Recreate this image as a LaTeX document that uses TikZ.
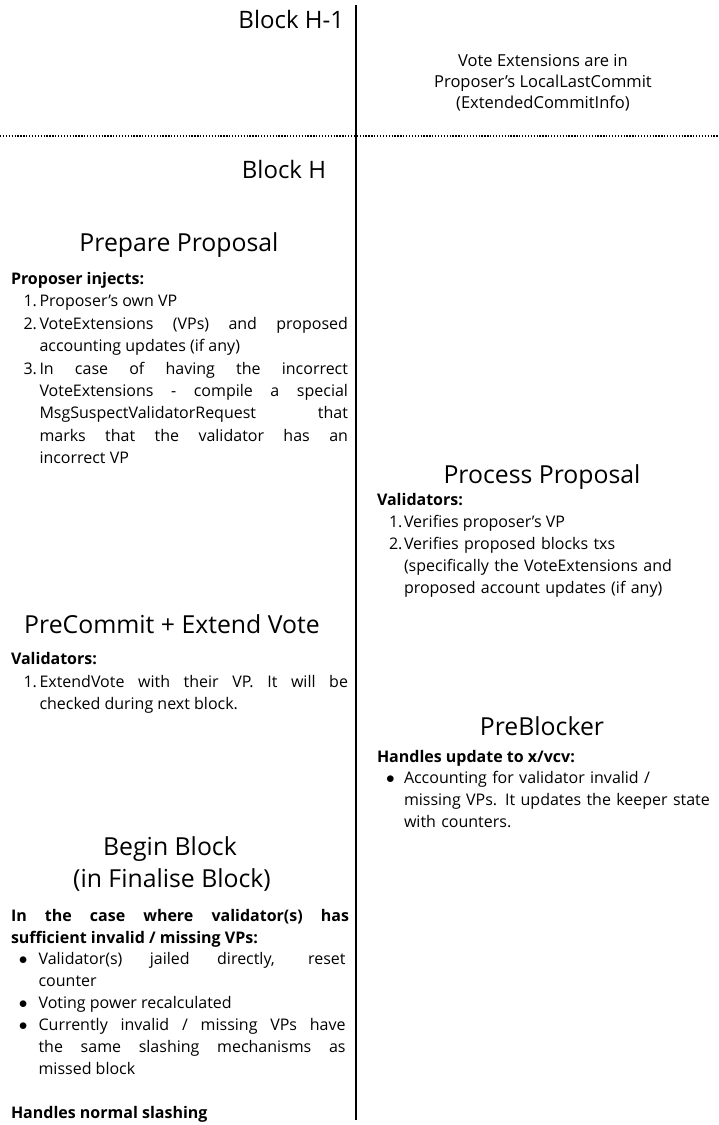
\documentclass[tikz,border=0pt]{standalone}
\usepackage{fontspec}
\setmainfont{Open Sans}
\begin{document}
\begin{tikzpicture}[x=1pt,y=-1pt,
  every node/.style={inner sep=0pt, outer sep=0pt},
  title/.style={font=\fontsize{24.8}{29}\selectfont, anchor=base},
  blk/.style={font=\fontsize{24}{28}\selectfont, anchor=base east},
  lbl/.style={font=\fontsize{16}{22.4}\selectfont\bfseries, anchor=base west},
  num/.style={font=\fontsize{16}{22.4}\selectfont, anchor=base west},
  para/.style={font=\fontsize{16}{22.4}\selectfont, anchor=base west, align=justify},
  rag/.style={font=\fontsize{16}{22.4}\selectfont, anchor=base west, align=left},
  note/.style={font=\fontsize{16.5}{21.3}\selectfont, anchor=base},
  divider/.style={line width=2pt},
  dotline/.style={line width=1.3pt, dash pattern=on 1.3pt off 1.6pt},
]
\useasboundingbox (0,0) rectangle (718,1125);
% dividers
\coordinate (vtop) at (356,5);
\coordinate (vbot) at (356,1120);
\coordinate (hl) at (0,136);
\coordinate (hr) at (718,136);
\draw[divider] (vtop) -- (vbot);
\draw[dotline] (hl) -- (hr);

% block headings
\node[blk] (bh1) at (344,28.5) {Block H-1};
\node[blk] (bh) at (326,178) {Block H};

% note
\node[note] (ve1) at (543,66) {Vote Extensions are in};
\node[note] (ve2) at (543,87) {Proposer’s LocalLastCommit};
\node[note] (ve3) at (543,108) {(ExtendedCommitInfo)};

% Prepare Proposal
\node[title] (pp) at (179,251) {Prepare Proposal};
\node[lbl] (ppl) at (11,284) {Proposer injects:};
\node[num] (ppn1) at (23.5,306.6) {1.};
\node[para, text width=308.5pt] (ppt1) at (39.5,306.6) {Proposer’s own VP};
\node[num] (ppn2) at (23.5,329) {2.};
\node[para, text width=308.5pt] (ppt2) at (39.5,329) {VoteExtensions (VPs) and proposed\linebreak accounting updates (if any)};
\node[num] (ppn3) at (23.5,374) {3.};
\node[para, text width=308.5pt] (ppt3) at (39.5,374) {In case of having the incorrect\linebreak VoteExtensions - compile a special\linebreak MsgSuspectValidatorRequest that\linebreak marks that the validator has an\linebreak incorrect VP};

% Process Proposal
\node[title] (prp) at (542,483) {Process Proposal};
\node[lbl] (prl) at (377,505) {Validators:};
\node[num] (prn1) at (389,527) {1.};
\node[rag] (prt1) at (404,527) {Verifies proposer’s VP};
\node[num] (prn2) at (389,549) {2.};
\node[rag, text width=310pt] (prt2) at (404,549) {Verifies proposed blocks txs\\(specifically the VoteExtensions and\\proposed account updates (if any)};

% PreCommit + Extend Vote
\node[title] (pc) at (172,633) {PreCommit + Extend Vote};
\node[lbl] (pcl) at (11,664) {Validators:};
\node[num] (pcn1) at (23.5,687) {1.};
\node[para, text width=308.5pt] (pct1) at (39.5,687) {ExtendVote with their VP. It will be\linebreak checked during next block.};

% PreBlocker
\node[title] (pb) at (542,735) {PreBlocker};
\node[lbl] (pbl) at (377,762) {Handles update to x/vcv:};
\node[num] (pbb1) at (386,783) {$\bullet$};
\node[rag, text width=315pt] (pbt1) at (404,783) {Accounting for validator invalid /\\missing VPs. It updates the keeper state\\with counters.};

% Begin Block
\node[title] (bb1) at (170,855) {Begin Block};
\node[title] (bb2) at (172,887) {(in Finalise Block)};
\node[para, font=\fontsize{16}{22}\selectfont\bfseries, text width=338pt] (bbl) at (11,921) {In the case where validator(s) has\linebreak sufficient invalid / missing VPs:};
\node[num] (bbb1) at (19,964) {$\bullet$};
\node[para, text width=307pt] (bbt1) at (38.6,964) {Validator(s) jailed directly, reset\linebreak counter};
\node[num] (bbb2) at (19,1008) {$\bullet$};
\node[para, text width=307pt] (bbt2) at (38.6,1008) {Voting power recalculated};
\node[num] (bbb3) at (19,1030) {$\bullet$};
\node[para, text width=307pt] (bbt3) at (38.6,1030) {Currently invalid / missing VPs have\linebreak the same slashing mechanisms as\linebreak missed block};
\node[lbl] (bbn) at (11,1118) {Handles normal slashing};
\end{tikzpicture}
\end{document}
